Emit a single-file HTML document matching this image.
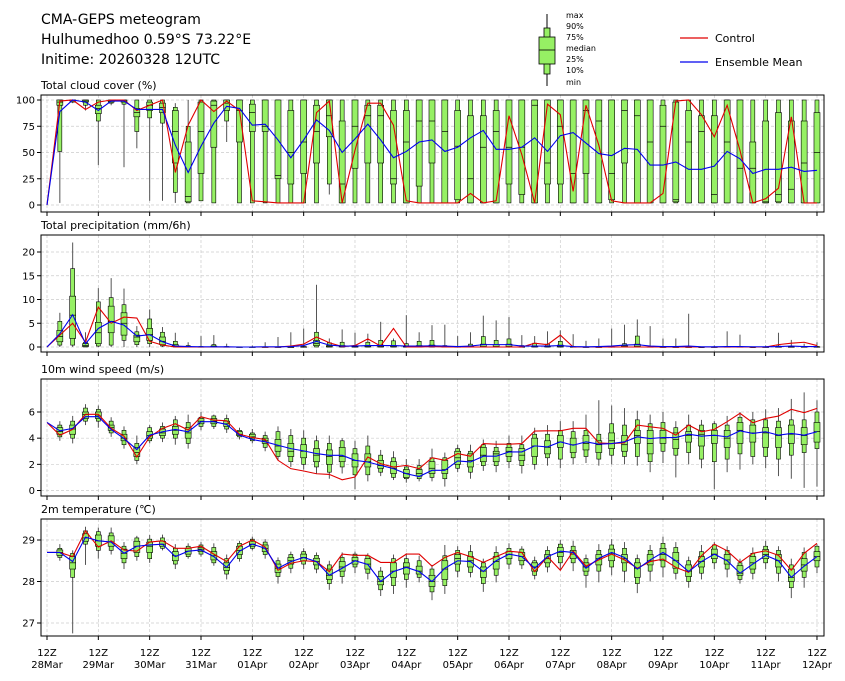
<!DOCTYPE html>
<html><head><meta charset="utf-8"><style>
body{margin:0;background:#fff;}
svg{display:block;font-family:"DejaVu Sans","Liberation Sans",sans-serif;}
</style></head><body>
<svg id="chart" width="845" height="681" viewBox="0 0 845 681" xmlns="http://www.w3.org/2000/svg">
<text x="41" y="24" font-size="14">CMA-GEPS meteogram</text>
<text x="41" y="44" font-size="14">Hulhumedhoo 0.59°S 73.22°E</text>
<text x="41" y="64" font-size="14">Initime: 20260328 12UTC</text>
<g>
<line x1="547" y1="14" x2="547" y2="86" stroke="#000" stroke-width="1"/>
<rect x="544" y="28" width="6" height="46" fill="#96f064" stroke="#000" stroke-width="0.8"/>
<rect x="539" y="37" width="16" height="27" fill="#96f064" stroke="#000" stroke-width="0.8"/>
<line x1="539" y1="50" x2="555" y2="50" stroke="#000" stroke-width="0.8"/>
<g font-size="8">
<text x="566" y="18">max</text><text x="566" y="29">90%</text><text x="566" y="40">75%</text><text x="566" y="51">median</text><text x="566" y="62">25%</text><text x="566" y="73">10%</text><text x="566" y="85">min</text>
</g></g>
<g><line x1="680" y1="38" x2="708" y2="38" stroke="#e00000" stroke-width="1.2"/><text x="715" y="42" font-size="11">Control</text></g>
<g><line x1="680" y1="62" x2="708" y2="62" stroke="#0000ee" stroke-width="1.2"/><text x="715" y="66" font-size="11">Ensemble Mean</text></g>
<g id="plots"></g>
</svg>
<script>
// ===== data =====
const dayLabels=["28Mar","29Mar","30Mar","31Mar","01Apr","02Apr","03Apr","04Apr","05Apr","06Apr","07Apr","08Apr","09Apr","10Apr","11Apr","12Apr"];
const cloudMean=[0,89,100,98,90,99,99,91,91,91,57,31,56,78,94,92,76,77,62,45,62,81,71,50,63,77,62,45,51,60,62,51,55,64,71,53,53,55,64,51,66,69,59,49,47,54,53,38,38,41,34,34,37,51,44,30,34,34,36,32,33];
const cloudCtrl=[0,99,100,91,98,100,100,90,95,100,31,76,100,89,99,90,4,3,2,2,2,88,99,2,52,97,97,76,4,2,2,2,2,11,2,4,85,48,2,96,86,13,95,57,4,2,2,2,11,99,100,86,65,95,52,2,6,16,84,2,2];
const cloudBox=[[2,51,95,98,100,100,100],[97,98,99,100,100,100,100],[90,95,98,99,100,100,100],[38,80,87,92,95,100,100],[95,97,98,99,100,100,100],[36,96,98,99,100,100,100],[54,70,84,88,92,100,100],[4,83,90,95,98,100,100],[4,78,88,93,97,100,100],[2,12,40,70,90,93,97],[2,2,3,8,60,75,100],[4,4,30,70,98,100,100],[2,2,55,95,99,100,100],[60,80,90,97,100,100,100],[2,2,60,90,100,100,100],[2,2,70,88,96,100,100],[2,2,70,75,100,100,100],[2,2,25,28,100,100,100],[2,2,20,50,90,100,100],[2,2,30,60,100,100,100],[2,2,40,70,95,100,100],[10,20,65,85,100,100,100],[2,2,2,20,80,100,100],[2,2,35,75,100,100,100],[2,2,40,85,95,100,100],[2,2,40,85,95,100,100],[2,2,20,25,90,100,100],[2,2,2,60,90,100,100],[2,2,18,80,100,100,100],[2,2,40,80,100,100,100],[2,2,2,70,100,100,100],[2,2,5,56,90,100,100],[2,2,2,25,85,100,100],[2,2,2,55,85,100,100],[2,2,2,70,90,100,100],[2,2,20,55,100,100,100],[2,2,10,55,100,100,100],[2,2,2,95,100,100,100],[2,2,20,40,100,100,100],[2,2,20,75,100,100,100],[2,2,2,30,100,100,100],[2,2,30,90,100,100,100],[2,2,2,80,100,100,100],[2,2,5,30,100,100,100],[2,2,40,90,100,100,100],[2,2,2,85,100,100,100],[2,2,2,60,100,100,100],[2,2,2,75,95,100,100],[2,2,3,5,98,100,100],[2,2,2,60,90,100,100],[2,2,2,70,85,100,100],[2,2,2,10,85,100,100],[2,2,2,60,100,100,100],[2,2,2,35,100,100,100],[2,2,2,35,60,100,100],[2,2,2,3,80,100,100],[2,2,3,10,88,100,100],[2,2,2,15,80,100,100],[2,2,2,40,80,100,100],[2,2,2,50,88,100,100]];
const precipMean=[0,2.8,6.8,0.7,3.9,5.4,4.6,2.3,2.6,1.1,0.2,0.1,0.05,0.05,0.05,0,0,0.05,0.05,0.1,0.3,1.2,0.4,0.2,0.2,0.3,0.3,0.3,0.2,0.2,0.25,0.2,0.1,0.2,0.5,0.5,0.5,0.2,0.2,0.2,0.3,0.1,0.05,0.1,0.2,0.4,0.5,0.2,0.1,0.1,0.2,0.05,0.05,0.1,0.1,0.05,0.05,0.1,0.2,0.1,0.1];
const precipCtrl=[0,2.5,5.0,1.0,8.4,5.0,6.3,6.1,1.2,0.4,0,0,0,0,0,0,0,0,0,0.2,0.6,2.1,0.9,0.1,0.3,1.7,0.2,3.9,0,0,0.1,0,0,0,0,0,0,0,0.8,0.5,2.5,0,0,0,0,0,0,0,0,0,0,0,0,0,0,0,0,0.5,0.8,1.0,0.3];
const precipBox=[[0,0.4,1.1,2.2,3.5,5.4,7.2],[0,0.4,1.8,6.7,10.7,16.5,22],[0,0,0.1,0.3,0.7,1.0,3.1],[0,0.2,0.7,3.0,5.2,9.5,12.4],[0,0.4,3.0,5.4,8.6,10.4,14.5],[0,1.4,2.5,5.0,7.2,8.9,12.3],[0,0.5,1.1,2.1,2.5,3.2,4.4],[0,0.7,1.4,2.6,3.9,5.9,7.9],[0,0.2,0.5,1.2,2.1,3.1,4.2],[0,0,0.1,0.2,0.5,1.2,3.0],[0,0,0,0.05,0.1,0.3,1.0],[0,0,0,0,0.05,0.1,2.3],[0,0,0,0.05,0.2,0.5,2.5],[0,0,0,0,0.05,0.1,0.7],[0,0,0,0,0,0.05,0.1],[0,0,0,0,0,0.05,0.3],[0,0,0,0,0,0.05,1.0],[0,0,0,0,0,0.05,2.1],[0,0,0,0,0,0.1,3.1],[0,0,0,0,0.05,0.1,3.9],[0,0,0.3,0.7,1.4,3.1,13.1],[0,0,0,0.1,0.3,0.9,1.8],[0,0,0,0.1,0.3,1.0,3.7],[0,0,0,0,0.1,0.3,3.0],[0,0,0,0.1,0.3,1.0,2.8],[0,0,0,0.1,0.4,1.4,5.3],[0,0,0,0.1,0.3,1.3,1.8],[0,0,0,0,0.1,0.7,6.7],[0,0,0,0.1,0.3,1.2,3.1],[0,0,0,0.1,0.4,1.4,4.6],[0,0,0,0,0.1,0.3,4.7],[0,0,0,0,0.05,0.1,2.3],[0,0,0,0.1,0.2,0.6,3.1],[0,0,0,0.1,0.6,2.2,6.6],[0,0,0,0.1,0.5,1.4,5.6],[0,0,0,0.1,0.6,1.7,6.3],[0,0,0,0,0.05,0.3,2.5],[0,0,0,0.1,0.2,0.8,2.3],[0,0,0,0.1,0.2,0.6,3.3],[0,0,0,0.1,0.4,1.2,3.5],[0,0,0,0,0.05,0.1,2.7],[0,0,0,0,0,0.05,1.3],[0,0,0,0,0,0.05,1.8],[0,0,0,0,0.05,0.1,3.9],[0,0,0,0.1,0.3,0.7,4.7],[0,0,0,0.1,0.6,2.3,5.8],[0,0,0,0,0.05,0.1,4.4],[0,0,0,0,0,0.05,1.8],[0,0,0,0,0,0.05,1.8],[0,0,0,0,0,0.05,7.0],[0,0,0,0,0,0,0.1],[0,0,0,0,0,0.05,0.3],[0,0,0,0,0.05,0.1,3.3],[0,0,0,0,0.05,0.1,2.6],[0,0,0,0,0,0,0.1],[0,0,0,0,0,0.05,0.3],[0,0,0,0,0.05,0.2,3.0],[0,0,0,0,0.05,0.1,1.5],[0,0,0,0,0.05,0.1,0.7],[0,0,0,0,0.05,0.1,1.0]];
const windMean=[5.2,4.56,4.75,5.64,5.64,4.67,3.97,3.13,4.23,4.49,4.67,4.49,5.26,5.26,5.05,4.23,3.9,3.72,3.46,3.2,3.03,2.82,2.69,2.69,2.31,2.18,1.92,1.67,1.28,1.07,1.54,1.54,2.26,2.18,2.62,2.62,2.95,2.95,3.41,3.33,3.72,3.46,3.72,3.54,3.59,3.72,4.1,3.97,4.05,4.05,4.3,4.15,4.23,4.1,4.56,4.36,4.49,4.23,4.36,4.23,4.49];
const windCtrl=[5.2,4.23,4.67,5.82,5.82,4.75,4.15,2.56,4.1,4.75,5.1,4.62,5.64,5.38,5.33,4.3,4.05,3.9,2.31,1.67,1.49,1.28,1.23,0.82,1.03,2.56,2.05,1.79,1.92,1.67,2.51,2.31,2.82,2.62,3.59,3.54,3.54,3.59,4.54,4.56,4.56,4.75,4.75,3.64,3.59,3.64,5.0,4.87,4.75,4.23,5.0,4.49,4.67,5.26,5.9,5.18,5.51,5.69,6.2,5.95,6.28];
const windBox=[[3.8,4.1,4.3,4.5,4.8,5.0,5.3],[3.6,4.0,4.3,4.7,5.0,5.3,5.7],[5.0,5.3,5.5,5.8,6.0,6.3,6.6],[4.8,5.3,5.5,5.7,6.0,6.2,6.5],[4.1,4.4,4.6,4.8,5.0,5.3,5.6],[3.2,3.5,3.8,4.0,4.3,4.6,4.9],[2.0,2.3,2.6,2.9,3.3,3.6,4.2],[3.6,3.8,4.0,4.2,4.5,4.8,5.0],[3.7,4.0,4.2,4.4,4.7,4.9,5.2],[3.5,4.0,4.3,4.6,4.9,5.4,5.7],[3.2,3.6,4.0,4.4,4.8,5.2,5.8],[4.6,4.9,5.1,5.3,5.5,5.6,6.0],[4.7,4.9,5.1,5.3,5.5,5.7,5.8],[4.4,4.7,4.9,5.1,5.3,5.5,5.8],[3.9,4.1,4.2,4.3,4.5,4.6,4.8],[3.6,3.8,4.0,4.1,4.3,4.4,4.7],[3.0,3.3,3.6,3.8,4.0,4.2,4.5],[2.3,2.6,3.0,3.4,3.9,4.5,4.9],[1.8,2.2,2.6,3.0,3.6,4.2,4.7],[1.6,2.0,2.5,3.0,3.5,4.0,4.6],[1.3,1.8,2.2,2.7,3.2,3.8,4.2],[0.9,1.4,2.0,2.6,3.1,3.6,4.2],[1.3,1.8,2.2,2.6,3.3,3.8,4.0],[0.1,1.2,1.8,2.3,2.8,3.2,3.8],[0.7,1.2,1.8,2.2,2.8,3.4,4.2],[1.1,1.4,1.7,1.9,2.3,2.7,3.1],[0.8,1.0,1.3,1.7,2.2,2.5,3.0],[0.6,0.9,1.0,1.3,1.6,1.8,2.4],[0.7,0.9,1.1,1.3,1.6,1.9,2.4],[0.7,1.0,1.3,1.7,2.2,2.5,3.2],[0.3,0.9,1.3,1.6,2.3,2.5,2.9],[1.4,1.7,2.0,2.5,3.0,3.2,3.5],[0.9,1.4,1.8,2.3,2.8,3.0,3.5],[1.5,1.9,2.2,2.7,3.3,3.5,3.9],[1.4,1.9,2.2,2.8,3.0,3.3,3.8],[1.7,2.2,2.6,3.0,3.3,3.6,4.2],[1.3,1.9,2.3,2.7,3.2,3.5,4.2],[1.6,2.0,2.6,3.4,4.0,4.3,4.8],[1.9,2.5,2.8,3.3,3.8,4.3,5.0],[1.7,2.4,3.3,3.7,4.2,4.6,5.3],[2.0,2.5,2.9,3.5,4.0,4.5,5.3],[2.1,2.6,3.1,3.6,4.2,4.6,5.8],[1.9,2.4,2.9,3.5,3.8,4.3,6.9],[2.0,2.7,3.2,3.8,4.4,5.1,6.5],[2.0,2.6,3.0,3.5,4.2,5.0,6.3],[1.9,2.6,3.6,4.2,4.6,5.4,6.1],[1.4,2.2,2.8,3.6,4.6,5.1,5.8],[2.1,3.0,3.6,4.0,4.6,5.2,6.0],[1.0,2.7,3.2,3.9,4.4,4.8,5.3],[2.0,2.9,3.7,4.2,4.5,5.0,5.8],[1.7,2.4,3.4,4.3,4.6,5.0,5.4],[0.1,2.2,3.6,4.2,4.6,5.1,5.3],[1.4,2.4,3.3,4.0,4.6,5.0,5.7],[1.6,2.8,3.6,4.6,5.2,5.6,6.0],[2.0,2.6,3.7,4.4,5.0,5.4,6.0],[1.7,2.6,3.3,4.4,4.8,5.4,6.2],[1.1,2.4,3.3,4.2,4.8,5.3,6.3],[0.9,2.7,3.6,4.3,5.0,5.4,7.0],[0.2,2.9,3.5,4.2,4.8,5.4,7.5],[0.3,3.2,3.7,4.5,5.2,6.0,6.9]];
const tempMean=[28.7,28.7,28.48,29.07,28.98,28.95,28.68,28.85,28.88,28.9,28.6,28.73,28.76,28.6,28.34,28.73,28.9,28.8,28.32,28.48,28.58,28.48,28.15,28.32,28.5,28.41,28.0,28.24,28.34,28.24,28.0,28.32,28.5,28.48,28.24,28.5,28.66,28.6,28.32,28.6,28.73,28.7,28.32,28.56,28.7,28.58,28.3,28.52,28.7,28.5,28.24,28.48,28.66,28.5,28.2,28.42,28.63,28.5,28.1,28.37,28.6];
const tempCtrl=[28.7,28.7,28.6,29.22,28.83,28.98,28.76,28.73,28.95,28.98,28.8,28.8,28.85,28.66,28.48,28.85,29.0,28.83,28.27,28.44,28.5,28.48,28.24,28.66,28.63,28.63,28.46,28.46,28.66,28.66,28.37,28.58,28.7,28.6,28.46,28.6,28.73,28.7,28.24,28.6,28.27,28.73,28.37,28.52,28.66,28.52,28.32,28.48,28.54,28.34,28.22,28.62,28.9,28.74,28.46,28.68,28.74,28.63,28.27,28.68,28.92];
const tempBox=[[28.5,28.58,28.63,28.7,28.76,28.8,28.9],[26.75,28.1,28.3,28.45,28.6,28.68,28.75],[28.4,28.9,28.97,29.05,29.15,29.22,29.32],[28.55,28.75,28.85,28.98,29.12,29.2,29.3],[28.65,28.75,28.85,28.95,29.1,29.17,29.3],[28.3,28.45,28.55,28.68,28.78,28.85,28.95],[28.5,28.6,28.7,28.85,28.97,29.05,29.1],[28.45,28.55,28.7,28.85,28.95,29.02,29.12],[28.75,28.8,28.85,28.9,28.97,29.05,29.13],[28.3,28.42,28.5,28.62,28.72,28.8,28.9],[28.55,28.6,28.66,28.73,28.8,28.85,28.92],[28.6,28.66,28.72,28.78,28.82,28.88,28.95],[28.38,28.45,28.52,28.62,28.72,28.82,28.92],[28.05,28.18,28.27,28.34,28.45,28.55,28.65],[28.48,28.55,28.65,28.75,28.85,28.92,28.98],[28.75,28.8,28.85,28.9,28.97,29.02,29.08],[28.55,28.65,28.72,28.8,28.88,28.95,29.02],[27.95,28.12,28.22,28.32,28.42,28.5,28.58],[28.2,28.32,28.42,28.5,28.58,28.65,28.72],[28.3,28.42,28.5,28.58,28.66,28.72,28.8],[28.2,28.3,28.4,28.48,28.56,28.63,28.7],[27.8,27.95,28.05,28.15,28.3,28.4,28.5],[27.95,28.12,28.25,28.35,28.48,28.58,28.7],[28.2,28.35,28.42,28.5,28.58,28.66,28.72],[28.05,28.2,28.3,28.42,28.55,28.62,28.68],[27.65,27.8,27.92,28.0,28.12,28.25,28.35],[27.7,27.9,28.1,28.25,28.45,28.55,28.65],[27.85,28.05,28.18,28.35,28.45,28.55,28.68],[27.98,28.1,28.18,28.25,28.37,28.5,28.62],[27.55,27.75,27.88,28.0,28.15,28.3,28.4],[27.7,27.9,28.05,28.3,28.5,28.62,28.88],[28.1,28.25,28.42,28.55,28.65,28.75,28.85],[28.1,28.22,28.35,28.5,28.6,28.72,28.88],[27.75,27.95,28.1,28.25,28.35,28.45,28.55],[27.98,28.15,28.3,28.48,28.6,28.7,28.85],[28.3,28.42,28.55,28.65,28.72,28.8,28.92],[28.3,28.4,28.5,28.6,28.7,28.78,28.85],[28.05,28.15,28.25,28.35,28.45,28.5,28.6],[28.22,28.35,28.45,28.55,28.65,28.75,28.85],[28.28,28.45,28.6,28.7,28.82,28.9,29.0],[28.25,28.45,28.55,28.66,28.75,28.85,28.98],[27.85,28.15,28.25,28.35,28.45,28.55,28.65],[27.98,28.25,28.4,28.55,28.65,28.75,28.9],[28.15,28.35,28.5,28.68,28.78,28.88,29.02],[27.98,28.25,28.45,28.55,28.65,28.8,28.95],[27.72,27.95,28.1,28.32,28.45,28.55,28.65],[28.0,28.25,28.4,28.5,28.65,28.75,28.88],[28.1,28.35,28.5,28.65,28.8,28.92,29.08],[28.05,28.2,28.32,28.5,28.7,28.82,28.95],[27.85,28.0,28.12,28.25,28.4,28.5,28.6],[28.05,28.2,28.35,28.48,28.6,28.72,28.88],[28.3,28.45,28.55,28.66,28.78,28.88,28.95],[28.1,28.3,28.42,28.52,28.65,28.75,28.85],[27.95,28.05,28.15,28.2,28.38,28.45,28.55],[28.05,28.2,28.3,28.45,28.6,28.68,28.82],[28.3,28.45,28.55,28.65,28.77,28.85,28.98],[28.0,28.2,28.35,28.5,28.65,28.75,28.85],[27.6,27.85,28.0,28.1,28.3,28.4,28.55],[27.85,28.1,28.25,28.4,28.55,28.7,28.82],[28.2,28.35,28.5,28.6,28.72,28.85,28.9]];
const cloudTicks=[0,25,50,75,100];
const precipTicks=[0,5,10,15,20];
const windTicks=[0,2,4,6];
const tempTicks=[27,28,29];

// ===== drawing =====
const NS="http://www.w3.org/2000/svg";
const plots=document.getElementById('plots');
function mk(tag,attrs,parent){const e=document.createElementNS(NS,tag);for(const k in attrs)e.setAttribute(k,attrs[k]);(parent||plots).appendChild(e);return e;}
const X0=47,DX=12.833,L=41,R=824;
function xs(t){return X0+t*DX;}
const panels=[
 {key:'cloud',title:'Total cloud cover (%)',top:95,bot:212,v0:0,y0:205,v1:100,y1:100,ticks:cloudTicks,fmt:v=>String(v),mean:cloudMean,ctrl:cloudCtrl,box:cloudBox},
 {key:'precip',title:'Total precipitation (mm/6h)',top:235,bot:352,v0:0,y0:347,v1:20,y1:252,ticks:precipTicks,fmt:v=>String(v),mean:precipMean,ctrl:precipCtrl,box:precipBox},
 {key:'wind',title:'10m wind speed (m/s)',top:379,bot:496,v0:0,y0:490.5,v1:6,y1:412,ticks:windTicks,fmt:v=>String(v),mean:windMean,ctrl:windCtrl,box:windBox},
 {key:'temp',title:'2m temperature (\u2103)',top:519,bot:636,v0:27,y0:623,v1:29,y1:540,ticks:tempTicks,fmt:v=>String(v),mean:tempMean,ctrl:tempCtrl,box:tempBox}
];
panels.forEach((p,pi)=>{
  const ys=v=>p.y0+(v-p.v0)*(p.y1-p.y0)/(p.v1-p.v0);
  const g=mk('g',{});
  
  
  const t=mk('text',{x:L,y:p.top-6,'font-size':11},g);t.textContent=p.title;
  
  
  for(let d=0;d<dayLabels.length;d++){const x=xs(d*4);
    mk('line',{x1:x,y1:p.top,x2:x,y2:p.bot,stroke:'#ccc','stroke-width':0.7,'stroke-dasharray':'3,2'},g);
    mk('line',{x1:x,y1:p.bot,x2:x,y2:p.bot+4,stroke:'#000','stroke-width':1},g);}
  p.ticks.forEach(v=>{const y=ys(v);
    mk('line',{x1:L,y1:y,x2:R,y2:y,stroke:'#ccc','stroke-width':0.7,'stroke-dasharray':'3,2'},g);
    mk('line',{x1:L-4,y1:y,x2:L,y2:y,stroke:'#000','stroke-width':1},g);
    const tl=mk('text',{x:L-6,y:y+3.5,'font-size':10,'text-anchor':'end'},g);tl.textContent=p.fmt(v);
    
    });
  p.box.forEach((b,i)=>{const x=xs(i+1);
    const bg=mk('g',{},g);
    
    
    mk('line',{x1:x,y1:ys(b[0]),x2:x,y2:ys(b[6]),stroke:'#555','stroke-width':1},bg);
    const y10=ys(b[1]),y90=ys(b[5]);
    mk('rect',{x:x-2,y:Math.min(y10,y90),width:4,height:Math.max(0.5,Math.abs(y10-y90)),fill:'#96f064',stroke:'#000','stroke-width':0.6},bg);
    const y25=ys(b[2]),y75=ys(b[4]);
    mk('rect',{x:x-3,y:Math.min(y25,y75),width:6,height:Math.max(0.5,Math.abs(y25-y75)),fill:'#96f064',stroke:'#000','stroke-width':0.6},bg);
    mk('line',{x1:x-3,y1:ys(b[3]),x2:x+3,y2:ys(b[3]),stroke:'#000','stroke-width':0.7},bg);
  });
  const ctrl=mk('polyline',{points:p.ctrl.map((v,i)=>xs(i)+','+ys(v)).join(' '),fill:'none',stroke:'#e00000','stroke-width':1.1},g);
  
  
  const mean=mk('polyline',{points:p.mean.map((v,i)=>xs(i)+','+ys(v)).join(' '),fill:'none',stroke:'#0000ee','stroke-width':1.1},g);
  
  
  mk('rect',{x:L,y:p.top,width:R-L,height:p.bot-p.top,fill:'none',stroke:'#000','stroke-width':1},g);
});
const xl=mk('g',{'font-size':10,'text-anchor':'middle'});


dayLabels.forEach((d,i)=>{const x=xs(i*4);
  const a=mk('text',{x:x,y:656},xl);a.textContent='12Z';
  const b=mk('text',{x:x,y:668},xl);b.textContent=d;});
</script>
</body></html>
